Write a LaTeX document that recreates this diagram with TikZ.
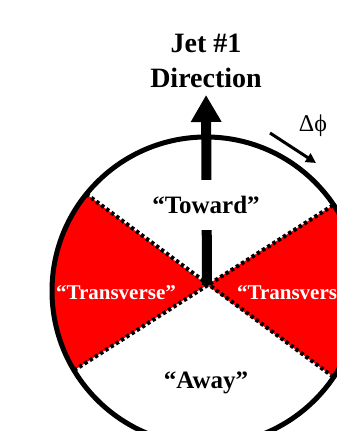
\documentclass[tikz,border=0pt]{standalone}
\usepackage{fontspec}
\setmainfont{Liberation Serif}
\usetikzlibrary{arrows.meta}

\begin{document}
\begin{tikzpicture}[
        x=1pt, y=1pt,
        % This defines the style of the region names
        regionlabel/.style={font=\bfseries\fontsize{25}{30}\selectfont, inner sep=0pt},
        sidelabel/.style={font=\bfseries\fontsize{21}{25}\selectfont, text=white, inner sep=0pt},
        % This defines the dotted borders of the red sectors
        border/.style={line width=4pt, dash pattern=on 3.4pt off 2.8pt},
        % This defines the style of the jet arrow
        jetarrow/.style={-{Triangle[length=27pt, width=29pt]}, line width=10pt, shorten >=7pt}
    ]
    \useasboundingbox (0,0) rectangle (337,431);
    \clip (0,0) rectangle (337,431);

    % --- THE POINTS ---
    \def\rad{154}
    \coordinate (centre) at (206,140);
    \coordinate (apex) at (207,146);
    \coordinate (upleft) at ([shift={(141:\rad)}]centre);
    \coordinate (lowleft) at ([shift={(211:\rad)}]centre);
    \coordinate (upright) at ([shift={(34:\rad)}]centre);
    \coordinate (lowright) at ([shift={(-34:\rad)}]centre);

    % --- THE RED SECTORS ---
    \fill[red] (apex) -- (upleft) arc[start angle=141, end angle=211, radius=\rad] -- cycle;
    \fill[red] (apex) -- (lowright) arc[start angle=-34, end angle=34, radius=\rad] -- cycle;
    \draw[border] (upleft) -- (lowright);
    \draw[border] (lowleft) -- (upright);

    % --- THE CIRCLE ---
    \draw[line width=5pt] (centre) circle[radius=\rad];

    % --- THE TITLE AND THE JET ARROW ---
    \node (title) [anchor=south, align=center, inner sep=0pt,
        font=\bfseries\fontsize{28}{35}\selectfont] at (206,343) {Jet \#1\\Direction};
    \draw [jetarrow] (apex) -- (title.south);

    % --- THE LABELS ---
    \node (toward) [regionlabel, fill=white, minimum height=50pt, inner xsep=4pt] at (206,226) {“Toward”};
    \node (away) [regionlabel] at (206,48) {“Away”};
    \node (transleft) [sidelabel] at (116,138) {“Transverse”};
    \node (transright) [sidelabel] at (297,138) {“Transverse”};

    % --- THE ROTATION ---
    \node (dphi) [font=\fontsize{24}{28}\selectfont, inner sep=0pt] at (313,305) {Δϕ};
    \coordinate (turnfrom) at (270,298);
    \coordinate (turnto) at (316,268);
    \draw [-{Triangle[length=10pt, width=10pt]}, line width=3pt] (turnfrom) -- (turnto);

    \end{tikzpicture}
\end{document}
